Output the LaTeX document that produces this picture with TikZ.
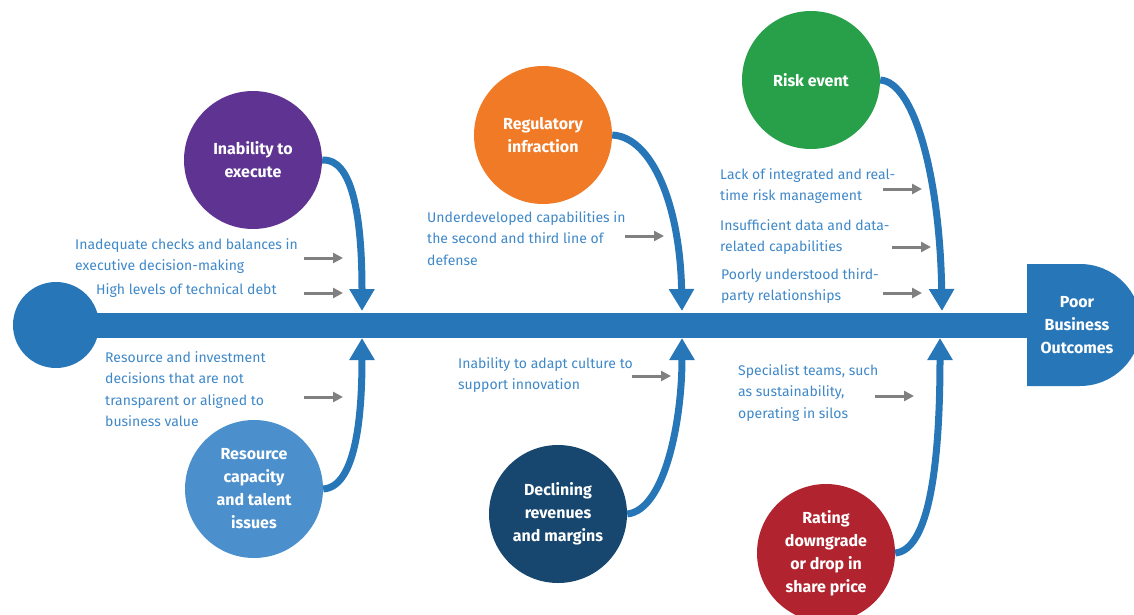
\documentclass[tikz,border=0pt]{standalone}
\usepackage{fontspec}
\setmainfont{Fira Sans}
\usetikzlibrary{arrows.meta}

\definecolor{spineblue}{HTML}{2776B8}
\definecolor{noteblue}{HTML}{3F88C8}
\definecolor{feedgray}{HTML}{808080}
\definecolor{causepurple}{HTML}{5F3392}
\definecolor{causeorange}{HTML}{F07A25}
\definecolor{causegreen}{HTML}{28A049}
\definecolor{causelight}{HTML}{4B8FCC}
\definecolor{causenavy}{HTML}{17476E}
\definecolor{causered}{HTML}{B1242F}

\begin{document}
\begin{tikzpicture}[x=1pt, y=-1pt,
		cause/.style={circle, inner sep=0pt, minimum size=138pt, text=white, align=center,
			font=\fontsize{16}{23}\selectfont\bfseries},
		note/.style={anchor=north west, inner sep=0pt, text=noteblue, align=left,
			font=\fontsize{14}{21.5}\selectfont},
		bone/.style={draw=spineblue, line width=7pt, -{Triangle[width=24pt, length=22pt]}},
		feed/.style={draw=feedgray, line width=3pt, -{Triangle[width=10pt, length=10pt]}}]
			\clip (0,0) rectangle (1134,615);
			\useasboundingbox (0,0) rectangle (1134,615);

			% spine with its tail and head
			\fill[color=spineblue] (56,325) circle (43);
			\coordinate (tail) at (56,325);
			\fill[color=spineblue] (1027,264) -- (1080,264) arc[start angle=-90, end angle=90, radius=61]
				-- (1027,386) -- cycle;
			\node[text=white, align=center, font=\fontsize{16}{23}\selectfont\bfseries] (head) at (1077,325)
				{Poor\\Business\\Outcomes};
			\draw[color=spineblue, line width=25pt] (tail) -- (1030,325);

			% causes
			\node[cause, fill=causepurple] (exec) at (253,160) {Inability to\\execute};
			\node[cause, fill=causeorange] (reg) at (543,135) {Regulatory\\infraction};
			\node[cause, fill=causegreen] (risk) at (811,80) {Risk event};
			\node[cause, fill=causelight] (res) at (254,489) {Resource\\capacity\\and talent\\issues};
			\node[cause, fill=causenavy] (rev) at (558,514) {Declining\\revenues\\and margins};
			\node[cause, fill=causered] (rate) at (826,553) {Rating\\downgrade\\or drop in\\share price};

			% bone tips on the spine
			\coordinate (t1) at (362,311);
			\coordinate (t2) at (682,311);
			\coordinate (t3) at (942,311);
			\coordinate (b1) at (362,338);
			\coordinate (b2) at (682,338);
			\coordinate (b3) at (940,338);

			\draw[bone] (exec.east) .. controls (352,158) and (362,215) .. (t1);
			\draw[bone] (reg.east) .. controls (652,137) and (680,205) .. (t2);
			\draw[bone] (risk.east) .. controls (915,82) and (940,180) .. (t3);
			\draw[bone] (res.east) .. controls (355,487) and (362,420) .. (b1);
			\draw[bone] (rev.east) .. controls (665,510) and (682,420) .. (b2);
			\draw[bone] (rate.east) .. controls (930,550) and (940,460) .. (b3);

			% contributing factors
			\node[note] (n1) at (75,238) {Inadequate checks and balances in\\executive decision-making};
			\node[note] (n2) at (96,283) {High levels of technical debt};
			\node[note] (n3) at (105,351) {Resource and investment\\decisions that are not\\transparent or aligned to\\business value};
			\node[note] (n4) at (427,211) {Underdeveloped capabilities in\\the second and third line of\\defense};
			\node[note] (n5) at (458,357) {Inability to adapt culture to\\support innovation};
			\node[note] (n6) at (720,168) {Lack of integrated and real-\\time risk management};
			\node[note] (n7) at (720,219) {Insufficient data and data-\\related capabilities};
			\node[note] (n8) at (721,268) {Poorly understood third-\\party relationships};
			\node[note] (n9) at (738,364) {Specialist teams, such\\as sustainability,\\operating in silos};

			\foreach \i/\x/\y in {1/304/258, 2/304/293, 3/304/397, 4/625/236, 5/632/376,
				6/883/189, 7/892/247, 8/883/293, 9/875/396} {
				\coordinate (f\i a) at (\x,\y);
				\coordinate (f\i b) at (\x+39,\y);
				\draw[feed] (f\i a) -- (f\i b);
			}
		\end{tikzpicture}
\end{document}
